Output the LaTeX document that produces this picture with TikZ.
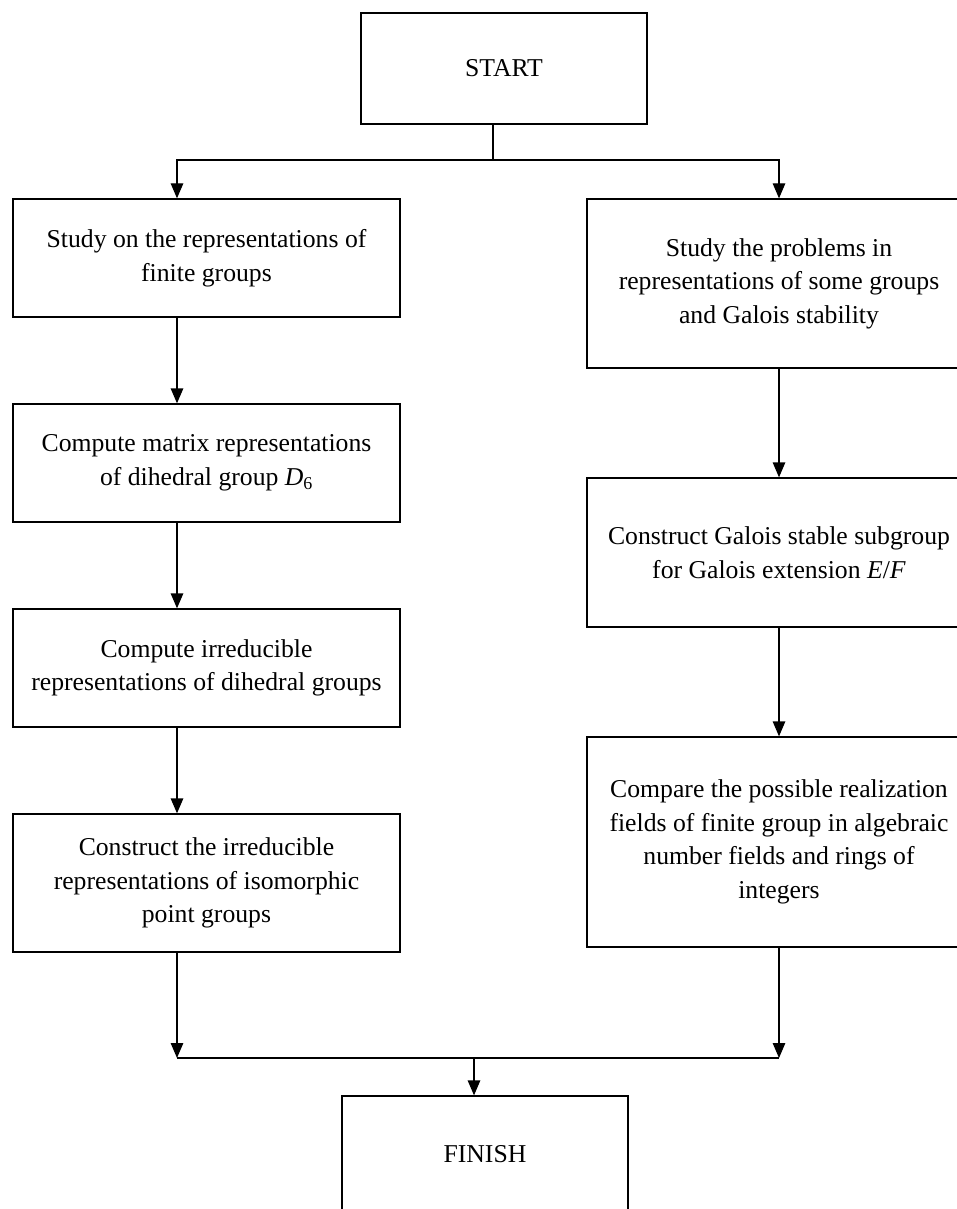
\documentclass[tikz,border=0pt]{standalone}
\usepackage{fontspec}
\setmainfont{Liberation Serif}
\usetikzlibrary{arrows.meta}
\tikzset{
  box/.style={draw, line width=1.3pt, rectangle, align=center, inner sep=0pt,
    font=\fontsize{25.7pt}{33.5pt}\selectfont},
  conn/.style={line width=1.3pt},
  arr/.style={conn, -{Triangle[width=12.5pt,length=15pt]}},
}
\begin{document}
\begin{tikzpicture}[x=1pt,y=-1pt]
\useasboundingbox (0,0) rectangle (957,1209);
% nodes
\node[box, minimum width=286pt, minimum height=111pt] (start) at (504,68.5) {START};
\node[box, minimum width=387pt, minimum height=118pt] (l1) at (206.5,258) {Study on the representations of\\finite groups};
\node[box, minimum width=387pt, minimum height=118pt] (l2) at (206.5,463) {Compute matrix representations\\of dihedral group \textit{D}\textsubscript{6}};
\node[box, minimum width=387pt, minimum height=118pt] (l3) at (206.5,668) {Compute irreducible\\representations of dihedral groups};
\node[box, minimum width=387pt, minimum height=138pt] (l4) at (206.5,883) {Construct the irreducible\\representations of isomorphic\\point groups};
\node[box, minimum width=384pt, minimum height=169pt] (r1) at (779,283.5) {Study the problems in\\representations of some groups\\and Galois stability};
\node[box, minimum width=384pt, minimum height=149pt] (r2) at (779,552.5) {Construct Galois stable subgroup\\for Galois extension \textit{E}/\textit{F}};
\node[box, minimum width=384pt, minimum height=210pt] (r3) at (779,842) {Compare the possible realization\\fields of finite group in algebraic\\number fields and rings of\\integers};
\node[box, minimum width=286pt, minimum height=116pt] (finish) at (485,1154) {FINISH};
% junction points
\coordinate (split) at (493,160);
\coordinate (splitL) at (177,160);
\coordinate (splitR) at (779,160);
\coordinate (mL) at (177,1058);
\coordinate (mR) at (779,1058);
\coordinate (mC) at (474,1058);
% connectors
\draw[conn] (start.south -| split) -- (split);
\draw[arr] (split) -- (splitL) -- (l1.north -| splitL);
\draw[arr] (split) -- (splitR) -- (r1.north);
\draw[arr] (l1.south -| splitL) -- (l2.north -| splitL);
\draw[arr] (l2.south -| splitL) -- (l3.north -| splitL);
\draw[arr] (l3.south -| splitL) -- (l4.north -| splitL);
\draw[arr] (r1.south) -- (r2.north);
\draw[arr] (r2.south) -- (r3.north);
\draw[arr] (l4.south -| mL) -- (mL);
\draw[arr] (r3.south) -- (mR);
\draw[conn] (mL) -- (mR);
\draw[arr] (mC) -- (finish.north -| mC);
\end{tikzpicture}
\end{document}
